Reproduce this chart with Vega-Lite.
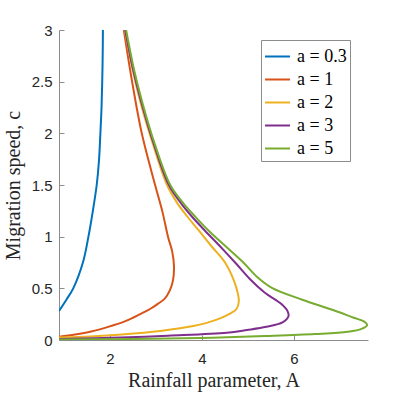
{
  "$schema": "https://vega.github.io/schema/vega-lite/v6.json",
  "width": 309,
  "height": 310,
  "autosize": {"type": "none"},
  "padding": {"left": 59, "top": 30, "right": 39, "bottom": 53},
  "background": "white",
  "config": {"view": {"stroke": null}},
  "datasets": {
    "curves": [
      {"a": "a = 0.3", "i": 1, "A": 0.89, "c": 0.28},
      {"a": "a = 0.3", "i": 2, "A": 1.05, "c": 0.39},
      {"a": "a = 0.3", "i": 3, "A": 1.20, "c": 0.5},
      {"a": "a = 0.3", "i": 4, "A": 1.41, "c": 0.75},
      {"a": "a = 0.3", "i": 5, "A": 1.53, "c": 1.0},
      {"a": "a = 0.3", "i": 6, "A": 1.63, "c": 1.26},
      {"a": "a = 0.3", "i": 7, "A": 1.71, "c": 1.5},
      {"a": "a = 0.3", "i": 8, "A": 1.76, "c": 1.74},
      {"a": "a = 0.3", "i": 9, "A": 1.79, "c": 2.0},
      {"a": "a = 0.3", "i": 10, "A": 1.815, "c": 2.25},
      {"a": "a = 0.3", "i": 11, "A": 1.83, "c": 2.5},
      {"a": "a = 0.3", "i": 12, "A": 1.84, "c": 2.75},
      {"a": "a = 0.3", "i": 13, "A": 1.845, "c": 3.0},

      {"a": "a = 1", "i": 1, "A": 2.30, "c": 3.0},
      {"a": "a = 1", "i": 2, "A": 2.48, "c": 2.5},
      {"a": "a = 1", "i": 3, "A": 2.69, "c": 2.0},
      {"a": "a = 1", "i": 4, "A": 2.98, "c": 1.5},
      {"a": "a = 1", "i": 5, "A": 3.14, "c": 1.24},
      {"a": "a = 1", "i": 6, "A": 3.26, "c": 1.0},
      {"a": "a = 1", "i": 7, "A": 3.35, "c": 0.86},
      {"a": "a = 1", "i": 8, "A": 3.39, "c": 0.72},
      {"a": "a = 1", "i": 9, "A": 3.37, "c": 0.58},
      {"a": "a = 1", "i": 10, "A": 3.30, "c": 0.48},
      {"a": "a = 1", "i": 11, "A": 3.19, "c": 0.40},
      {"a": "a = 1", "i": 12, "A": 3.04, "c": 0.35},
      {"a": "a = 1", "i": 13, "A": 2.87, "c": 0.30},
      {"a": "a = 1", "i": 14, "A": 2.72, "c": 0.265},
      {"a": "a = 1", "i": 15, "A": 2.52, "c": 0.22},
      {"a": "a = 1", "i": 16, "A": 2.32, "c": 0.18},
      {"a": "a = 1", "i": 17, "A": 1.96, "c": 0.127},
      {"a": "a = 1", "i": 18, "A": 1.59, "c": 0.082},
      {"a": "a = 1", "i": 19, "A": 1.24, "c": 0.053},
      {"a": "a = 1", "i": 20, "A": 0.89, "c": 0.032},

      {"a": "a = 2", "i": 1, "A": 2.32, "c": 3.0},
      {"a": "a = 2", "i": 2, "A": 2.50, "c": 2.6},
      {"a": "a = 2", "i": 3, "A": 2.68, "c": 2.27},
      {"a": "a = 2", "i": 4, "A": 2.93, "c": 1.9},
      {"a": "a = 2", "i": 5, "A": 3.24, "c": 1.5},
      {"a": "a = 2", "i": 6, "A": 3.47, "c": 1.32},
      {"a": "a = 2", "i": 7, "A": 3.67, "c": 1.2},
      {"a": "a = 2", "i": 8, "A": 3.93, "c": 1.06},
      {"a": "a = 2", "i": 9, "A": 4.22, "c": 0.90},
      {"a": "a = 2", "i": 10, "A": 4.50, "c": 0.75},
      {"a": "a = 2", "i": 11, "A": 4.69, "c": 0.58},
      {"a": "a = 2", "i": 12, "A": 4.78, "c": 0.45},
      {"a": "a = 2", "i": 13, "A": 4.80, "c": 0.37},
      {"a": "a = 2", "i": 14, "A": 4.75, "c": 0.30},
      {"a": "a = 2", "i": 15, "A": 4.61, "c": 0.255},
      {"a": "a = 2", "i": 16, "A": 4.32, "c": 0.197},
      {"a": "a = 2", "i": 17, "A": 3.81, "c": 0.135},
      {"a": "a = 2", "i": 18, "A": 3.09, "c": 0.088},
      {"a": "a = 2", "i": 19, "A": 2.26, "c": 0.054},
      {"a": "a = 2", "i": 20, "A": 1.57, "c": 0.035},
      {"a": "a = 2", "i": 21, "A": 0.89, "c": 0.024},

      {"a": "a = 3", "i": 1, "A": 2.33, "c": 3.0},
      {"a": "a = 3", "i": 2, "A": 2.51, "c": 2.6},
      {"a": "a = 3", "i": 3, "A": 2.70, "c": 2.27},
      {"a": "a = 3", "i": 4, "A": 2.95, "c": 1.9},
      {"a": "a = 3", "i": 5, "A": 3.28, "c": 1.5},
      {"a": "a = 3", "i": 6, "A": 3.55, "c": 1.32},
      {"a": "a = 3", "i": 7, "A": 3.77, "c": 1.2},
      {"a": "a = 3", "i": 8, "A": 4.06, "c": 1.06},
      {"a": "a = 3", "i": 9, "A": 4.45, "c": 0.88},
      {"a": "a = 3", "i": 10, "A": 4.74, "c": 0.74},
      {"a": "a = 3", "i": 11, "A": 5.04, "c": 0.59},
      {"a": "a = 3", "i": 12, "A": 5.36, "c": 0.46},
      {"a": "a = 3", "i": 13, "A": 5.72, "c": 0.35},
      {"a": "a = 3", "i": 14, "A": 5.86, "c": 0.28},
      {"a": "a = 3", "i": 15, "A": 5.88, "c": 0.23},
      {"a": "a = 3", "i": 16, "A": 5.75, "c": 0.17},
      {"a": "a = 3", "i": 17, "A": 5.40, "c": 0.128},
      {"a": "a = 3", "i": 18, "A": 4.98, "c": 0.097},
      {"a": "a = 3", "i": 19, "A": 4.54, "c": 0.07},
      {"a": "a = 3", "i": 20, "A": 3.26, "c": 0.042},
      {"a": "a = 3", "i": 21, "A": 2.22, "c": 0.024},
      {"a": "a = 3", "i": 22, "A": 0.89, "c": 0.01},

      {"a": "a = 5", "i": 1, "A": 2.35, "c": 3.0},
      {"a": "a = 5", "i": 2, "A": 2.53, "c": 2.6},
      {"a": "a = 5", "i": 3, "A": 2.72, "c": 2.27},
      {"a": "a = 5", "i": 4, "A": 2.97, "c": 1.9},
      {"a": "a = 5", "i": 5, "A": 3.31, "c": 1.5},
      {"a": "a = 5", "i": 6, "A": 3.60, "c": 1.32},
      {"a": "a = 5", "i": 7, "A": 3.84, "c": 1.2},
      {"a": "a = 5", "i": 8, "A": 4.14, "c": 1.06},
      {"a": "a = 5", "i": 9, "A": 4.58, "c": 0.88},
      {"a": "a = 5", "i": 10, "A": 4.92, "c": 0.74},
      {"a": "a = 5", "i": 11, "A": 5.20, "c": 0.61},
      {"a": "a = 5", "i": 12, "A": 5.52, "c": 0.505},
      {"a": "a = 5", "i": 13, "A": 6.18, "c": 0.39},
      {"a": "a = 5", "i": 14, "A": 6.85, "c": 0.29},
      {"a": "a = 5", "i": 15, "A": 7.30, "c": 0.215},
      {"a": "a = 5", "i": 16, "A": 7.52, "c": 0.18},
      {"a": "a = 5", "i": 17, "A": 7.59, "c": 0.145},
      {"a": "a = 5", "i": 18, "A": 7.47, "c": 0.108},
      {"a": "a = 5", "i": 19, "A": 7.17, "c": 0.08},
      {"a": "a = 5", "i": 20, "A": 6.46, "c": 0.058},
      {"a": "a = 5", "i": 21, "A": 5.37, "c": 0.039},
      {"a": "a = 5", "i": 22, "A": 3.96, "c": 0.02},
      {"a": "a = 5", "i": 23, "A": 2.43, "c": 0.01},
      {"a": "a = 5", "i": 24, "A": 0.89, "c": 0.005}
    ]
  },
  "data": {"name": "curves"},
  "mark": {"type": "line", "strokeWidth": 2, "interpolate": "catmull-rom", "clip": true},
  "encoding": {
    "x": {
      "field": "A", "type": "quantitative",
      "scale": {"domain": [0.89, 7.61], "nice": false, "zero": false},
      "axis": {
        "title": "Rainfall parameter, A",
        "titleFont": "Liberation Serif", "titleFontSize": 20, "titleFontWeight": "normal", "titleColor": "#262626",
        "titlePadding": 4,
        "values": [2, 4, 6], "grid": false, "format": "~g",
        "domainColor": "#8c8c8c", "tickColor": "#8c8c8c", "tickSize": -5,
        "labelFont": "Liberation Sans", "labelFontSize": 15, "labelColor": "#262626", "labelPadding": 16
      }
    },
    "y": {
      "field": "c", "type": "quantitative",
      "scale": {"domain": [0, 3], "nice": false},
      "axis": {
        "title": "Migration speed, c",
        "titleFont": "Liberation Serif", "titleFontSize": 20, "titleFontWeight": "normal", "titleColor": "#262626",
        "titlePadding": 8,
        "values": [0, 0.5, 1, 1.5, 2, 2.5, 3], "grid": false, "format": "~g",
        "domainColor": "#8c8c8c", "tickColor": "#8c8c8c", "tickSize": -5,
        "labelFont": "Liberation Sans", "labelFontSize": 15, "labelColor": "#262626", "labelPadding": 12
      }
    },
    "order": {"field": "i", "type": "quantitative"},
    "color": {
      "field": "a", "type": "nominal",
      "scale": {
        "domain": ["a = 0.3", "a = 1", "a = 2", "a = 3", "a = 5"],
        "range": ["#0072BD", "#D95319", "#EDB120", "#7E2F8E", "#77AC30"]
      },
      "legend": {
        "title": null, "orient": "none", "legendX": 202, "legendY": 10,
        "strokeColor": "#8c8c8c", "fillColor": "white", "padding": 3,
        "symbolType": "stroke", "symbolSize": 625, "symbolStrokeWidth": 2,
        "labelFont": "Liberation Serif", "labelFontSize": 18, "labelColor": "#000000",
        "labelOffset": 6, "rowPadding": -1.5
      }
    }
  }
}
